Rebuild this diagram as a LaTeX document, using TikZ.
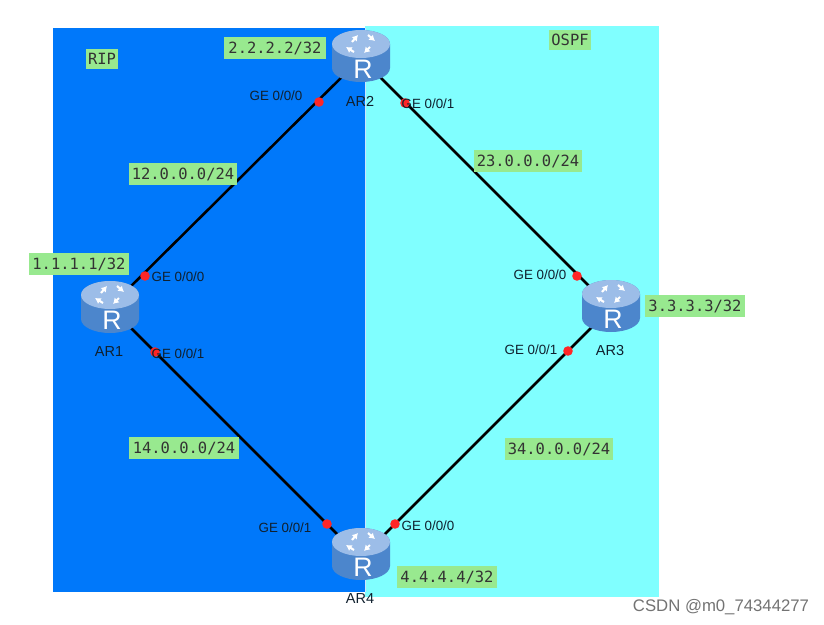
\documentclass[tikz,border=0pt]{standalone}
\usepackage{fontspec}
\setmainfont{Liberation Sans}
\setmonofont{DejaVu Sans Mono}
\usepackage{xcolor}
\usetikzlibrary{arrows.meta, positioning, calc}
\definecolor{kblue}{HTML}{0078FA}
\definecolor{kcyan}{HTML}{80FFFF}
\definecolor{kgreen}{HTML}{98E98F}
\definecolor{kdark}{HTML}{10202E}
\definecolor{kbody}{HTML}{4C86CC}
\definecolor{kbodyhi}{HTML}{86B4E8}
\definecolor{ktop}{HTML}{9CBDE8}
\tikzset{
  netbox/.style={fill=kgreen, font=\fontsize{11}{13}\selectfont\ttfamily, text=black!80, inner sep=0pt, minimum height=0.55cm},
  portlabel/.style={font=\fontsize{9.5}{11}\selectfont, text=kdark, inner sep=0pt},
  namelabel/.style={font=\fontsize{10.3}{12}\selectfont, text=kdark, inner sep=0pt},
  portdot/.style={circle, fill=red!85!white, inner sep=0pt, minimum size=0.24cm},
  routerbase/.style={circle, inner sep=0pt, minimum size=0.6cm},
  link/.style={black, line width=1.8pt},
  routerarrow/.style={white, line width=1.5pt, -{Latex[length=4pt,width=5pt]}},
  routerpic/.pic={
    \path[left color=kbody, middle color=kbodyhi, right color=kbody]
      (-29,-11) -- (-29,13) arc[start angle=180, end angle=0, x radius=29, y radius=14]
      -- (29,-11) arc[start angle=0, end angle=-180, x radius=29, y radius=14] -- cycle;
    \path[fill=ktop]
      (0,-11) ellipse[x radius=29, y radius=14];
    \draw[routerarrow] (-9,-13) -- (-3,-20);
    \draw[routerarrow] (7,-20) -- (14,-14);
    \draw[routerarrow] (-7,-3) -- (-15,-8);
    \draw[routerarrow] (9,-8) -- (3,-2);
    \node[text=white, inner sep=0pt, font=\fontsize{19}{19}\selectfont] at (2,14) {R};
  }
}
\begin{document}
\begin{tikzpicture}[x=0.025cm, y=-0.025cm]
\useasboundingbox (0,0) rectangle (824,625);
\fill[white] (0,0) rectangle (824,625);
% areas
\fill[kblue] (53,28) rectangle (365,592);
\fill[kcyan] (365,26) rectangle (659,597);
\draw[white!80!kblue, line width=0.6pt] (365,28) -- (365,592);
% routers
\node[routerbase] (AR2) at (361,58) {};
\node[routerbase] (AR1) at (110,307) {};
\node[routerbase] (AR3) at (611,308) {};
\node[routerbase] (AR4) at (361,558) {};
% links
\draw[link] (AR2) -- (AR1);
\draw[link] (AR2) -- (AR3);
\draw[link] (AR1) -- (AR4);
\draw[link] (AR3) -- (AR4);
\pic at (361,55) {routerpic};
\pic at (110,306) {routerpic};
\pic at (611,305) {routerpic};
\pic at (361,553) {routerpic};
% port dots
\node[portdot] (p20) at (319,102) {};
\node[portdot] (p21) at (405,103) {};
\node[portdot] (p10) at (145,276) {};
\node[portdot] (p11) at (155,352) {};
\node[portdot] (p30) at (577,276) {};
\node[portdot] (p31) at (568,351) {};
\node[portdot] (p41) at (327,524) {};
\node[portdot] (p40) at (395,524) {};
% port labels
\node[portlabel] (l20) at (276,96) {GE 0/0/0};
\node[portlabel] (l21) at (428,104) {GE 0/0/1};
\node[portlabel] (l10) at (178,277) {GE 0/0/0};
\node[portlabel] (l11) at (178,354) {GE 0/0/1};
\node[portlabel] (l30) at (540,275) {GE 0/0/0};
\node[portlabel] (l31) at (531,350) {GE 0/0/1};
\node[portlabel] (l41) at (285,528) {GE 0/0/1};
\node[portlabel] (l40) at (428,526) {GE 0/0/0};
% router names
\node[namelabel] (n2) at (360,101) {AR2};
\node[namelabel] (n1) at (109,352) {AR1};
\node[namelabel] (n3) at (610,351) {AR3};
\node[namelabel] (n4) at (360,599) {AR4};
% networks
\node[netbox, minimum width=0.8cm, minimum height=0.5cm] (rip) at (102,59) {RIP};
\node[netbox, minimum width=1.05cm, minimum height=0.48cm] (ospf) at (570,40) {OSPF};
\node[netbox, minimum width=2.525cm] (lo2) at (275,48) {2.2.2.2/32};
\node[netbox, minimum width=2.475cm] (lo1) at (79,264) {1.1.1.1/32};
\node[netbox, minimum width=2.5cm] (lo3) at (695,306) {3.3.3.3/32};
\node[netbox, minimum width=2.5cm] (lo4) at (447,577) {4.4.4.4/32};
\node[netbox, minimum width=2.7cm] (net12) at (183,174) {12.0.0.0/24};
\node[netbox, minimum width=2.675cm] (net23) at (528,161) {23.0.0.0/24};
\node[netbox, minimum width=2.725cm] (net14) at (184,448) {14.0.0.0/24};
\node[netbox, minimum width=2.7cm] (net34) at (559,449) {34.0.0.0/24};
% watermark
\node[font=\fontsize{11.9}{13}\selectfont, text=black!55, inner sep=0pt] (mark) at (721,607) {CSDN @m0\_74344277};
\end{tikzpicture}
\end{document}
